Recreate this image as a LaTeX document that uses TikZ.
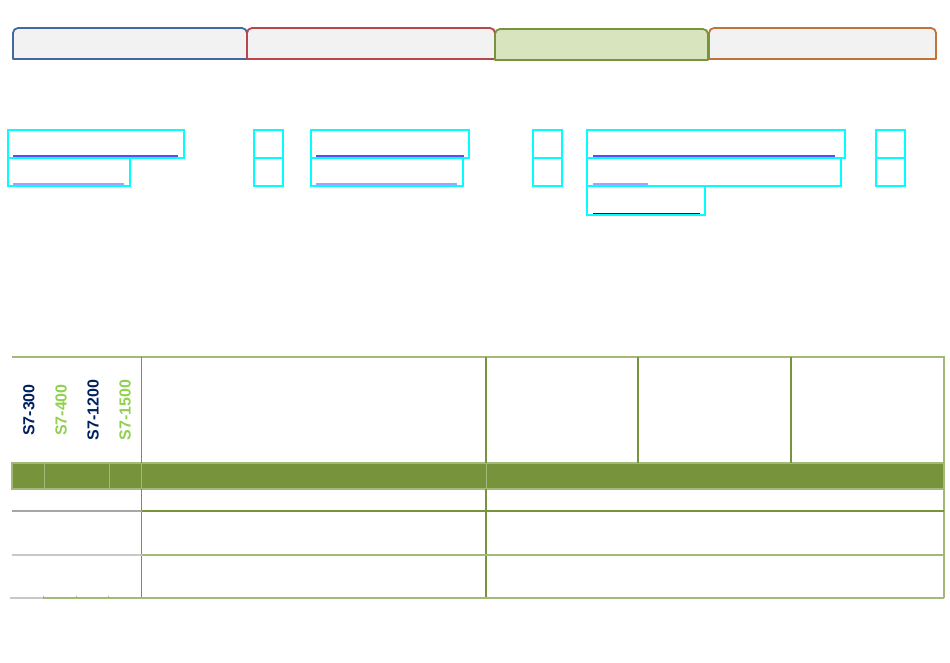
\documentclass[tikz,border=0pt]{standalone}
\usepackage{fontspec}
\setmainfont{Liberation Sans}
\definecolor{tabblue}{HTML}{41699C}
\definecolor{tabred}{HTML}{B9464A}
\definecolor{tabgreen}{HTML}{77933C}
\definecolor{tabgreenfill}{HTML}{D7E4BD}
\definecolor{taborange}{HTML}{C2733A}
\definecolor{tabgray}{HTML}{F2F2F2}
\definecolor{linkcyan}{HTML}{00FFFF}
\definecolor{ulmid}{HTML}{5050FF}
\definecolor{ullight}{HTML}{A0A0FF}
\definecolor{uldark}{HTML}{1010E0}
\definecolor{darkgreen}{HTML}{77933C}
\definecolor{lightgreen}{HTML}{A3B97A}
\definecolor{rowgray}{HTML}{A6A6A6}
\definecolor{rowlightgray}{HTML}{C8C8C8}
\definecolor{navy}{HTML}{002060}
\definecolor{limegreen}{HTML}{92D050}
\begin{document}
\begin{tikzpicture}[x=1pt,y=-1pt,
  tabstyle/.style={line width=1.8pt, line join=round},
  linkbox/.style={draw=linkcyan, line width=1.6pt, inner sep=0pt, outer sep=0pt, anchor=north west},
  ul/.style={line width=1.1pt},
  tline/.style={line width=1.3pt},
  s7label/.style={rotate=90, font=\fontsize{16}{16}\selectfont\bfseries, inner sep=0pt}]
\useasboundingbox[fill=white] (0,0) rectangle (950,662);
% tabs
\draw[tabstyle, draw=tabblue, fill=tabgray] (13,59) -- (13,33) arc[start angle=180,end angle=270,radius=5] -- (242,28) arc[start angle=270,end angle=360,radius=5] -- (247,59) -- cycle;
\draw[tabstyle, draw=tabred, fill=tabgray] (247,59) -- (247,33) arc[start angle=180,end angle=270,radius=5] -- (490,28) arc[start angle=270,end angle=360,radius=5] -- (495,59) -- cycle;
\draw[tabstyle, draw=taborange, fill=tabgray] (709,59) -- (709,33) arc[start angle=180,end angle=270,radius=5] -- (931,28) arc[start angle=270,end angle=360,radius=5] -- (936,59) -- cycle;
\draw[tabstyle, draw=tabgreen, fill=tabgreenfill] (495,60) -- (495,34) arc[start angle=180,end angle=270,radius=5] -- (703,29) arc[start angle=270,end angle=360,radius=5] -- (708,60) -- cycle;
% link boxes
\node[linkbox, minimum width=176.3, minimum height=28.3] (A) at (7.7,129.7) {};
\node[linkbox, minimum width=122.3, minimum height=27.7] (B) at (7.7,158) {};
\node[linkbox, minimum width=29, minimum height=28.3] (C) at (254,129.7) {};
\node[linkbox, minimum width=29, minimum height=28] (D) at (254,158) {};
\node[linkbox, minimum width=158.3, minimum height=28.3] (E) at (310.7,129.7) {};
\node[linkbox, minimum width=152.3, minimum height=28] (F) at (310.7,158) {};
\node[linkbox, minimum width=29.3, minimum height=28.3] (G) at (532.7,129.7) {};
\node[linkbox, minimum width=29.3, minimum height=28] (H) at (532.7,158) {};
\node[linkbox, minimum width=258.3, minimum height=28.3] (I) at (586.7,129.7) {};
\node[linkbox, minimum width=254.3, minimum height=28] (J) at (586.7,158) {};
\node[linkbox, minimum width=118.3, minimum height=29] (K) at (586.7,186) {};
\node[linkbox, minimum width=29.3, minimum height=28.3] (L) at (875.7,129.7) {};
\node[linkbox, minimum width=29.3, minimum height=28] (M) at (875.7,158) {};
% underlines
\draw[ul, ulmid] ([xshift=5.3pt,yshift=2pt]A.south west) -- ([xshift=-6pt,yshift=2pt]A.south east);
\draw[ul, ullight] ([xshift=5.3pt,yshift=1.7pt]B.south west) -- ([xshift=-6pt,yshift=1.7pt]B.south east);
\draw[ul, ulmid] ([xshift=5.3pt,yshift=2pt]E.south west) -- ([xshift=-5pt,yshift=2pt]E.south east);
\draw[ul, ullight] ([xshift=5.3pt,yshift=2pt]F.south west) -- ([xshift=-6pt,yshift=2pt]F.south east);
\draw[ul, ulmid] ([xshift=6.3pt,yshift=2pt]I.south west) -- ([xshift=-10pt,yshift=2pt]I.south east);
\draw[ul, ullight] ([xshift=6.3pt,yshift=2pt]J.south west) -- ([xshift=61pt,yshift=2pt]J.south west);
\draw[ul, uldark] ([xshift=6.3pt,yshift=1.6pt]K.south west) -- ([xshift=-5pt,yshift=1.6pt]K.south east);
% table band
\fill[darkgreen] (12,463) rectangle (944,489);
\draw[tline, lightgreen] (12,463) rectangle (944,489);
\foreach \xx in {44,109.5,141.7,486} \draw[line width=1pt, lightgreen] (\xx,463) -- (\xx,489);
% table outline
\draw[tline, lightgreen] (12,357) -- (944,357) -- (944,598);
\draw[tline, darkgreen] (141.7,357) -- (141.7,463) (141.7,489) -- (141.7,598);
\draw[tline, darkgreen] (486,357) -- (486,463) (486,489) -- (486,598);
\draw[tline, darkgreen] (638,357) -- (638,463);
\draw[tline, darkgreen] (791,357) -- (791,463);
% row lines
\draw[tline, rowgray] (12,511) -- (141.7,511);
\draw[tline, darkgreen] (141.7,511) -- (944,511);
\draw[tline, rowlightgray] (12,555) -- (141.7,555);
\draw[tline, lightgreen] (141.7,555) -- (944,555);
\draw[tline, rowlightgray] (10,598) -- (43,598);
\draw[tline, lightgreen] (43,598) -- (944,598);
\foreach \xx in {43,76,108} \draw[line width=1pt, lightgreen] (\xx,598) -- (\xx,596);
% S7 labels
\node[s7label, text=navy] (s300) at (29,410) {S7-300};
\node[s7label, text=limegreen] (s400) at (61,410) {S7-400};
\node[s7label, text=navy] (s1200) at (93,410) {S7-1200};
\node[s7label, text=limegreen] (s1500) at (125,410) {S7-1500};
\end{tikzpicture}
\end{document}
